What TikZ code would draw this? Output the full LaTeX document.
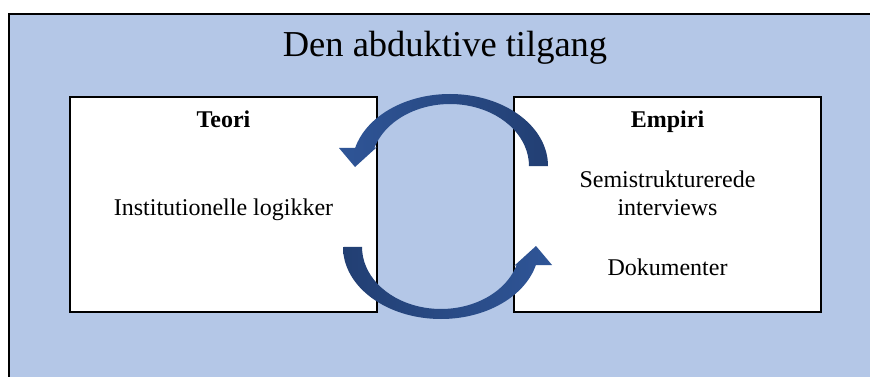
\documentclass[tikz,border=0pt]{standalone}
\usepackage{fontspec}
\setmainfont{Liberation Serif}
\usepackage{xcolor}
\definecolor{panelblue}{HTML}{B4C7E7}
\definecolor{arrowlight}{HTML}{2F5597}
\definecolor{arrowdark}{HTML}{223F73}
\usepackage{tikz}
\usetikzlibrary{positioning, calc}

\begin{document}
\begin{tikzpicture}[
  x=1pt, y=-1pt,
  panel/.style={
    draw=black, line width=1.5pt, fill=white, outer sep=0pt, inner sep=0pt,
    minimum width=307pt, minimum height=215pt
  },
  headlbl/.style={font=\fontsize{24}{28}\selectfont\bfseries, anchor=base},
  bodylbl/.style={font=\fontsize{24}{28}\selectfont, anchor=base},
  cycarrow/.style={draw=none, shading angle=90}
]
  \useasboundingbox (0,0) rectangle (870,377);
  \clip (0,0) rectangle (870,377);

  % light blue frame, runs off the right and bottom edge
  \draw[fill=panelblue, line width=1.2pt] (9,14) rectangle (890,400);
  \node[font=\fontsize{36.5}{40}\selectfont, anchor=base] (title) at (445,57)
    {Den abduktive tilgang};

  \node[panel] (teori) at (223.5,204.5) {};
  \node[panel, right=137pt of teori] (empiri) {};

  \node[headlbl] (teorihead) at ([yshift=-31pt]teori.north) {Teori};
  \node[bodylbl] (teoribody) at ([yshift=-10.5pt]teori.center) {Institutionelle logikker};

  \node[headlbl] (empirihead) at ([yshift=-31pt]empiri.north) {Empiri};
  \node[bodylbl] (semistr) at ([yshift=17.5pt]empiri.center) {Semistrukturerede};
  \node[bodylbl] (interv) at ([yshift=-10.5pt]empiri.center) {interviews};
  \node[bodylbl] (dokum) at ([yshift=-70.5pt]empiri.center) {Dokumenter};

  % curved block arrows: Empiri -> Teori over the top, Teori -> Empiri below
  \shade[cycarrow, left color=arrowlight, right color=arrowdark]
    (548,166) arc[start angle=0, end angle=-165.5, x radius=98, y radius=72]
    -- (339,148) -- (355,167) -- (377,147) -- (374.4,148)
    arc[start angle=-163.1, end angle=0, x radius=79, y radius=62] -- cycle;
  \shade[cycarrow, left color=arrowdark, right color=arrowlight]
    (343,247) arc[start angle=180, end angle=14.5, x radius=98, y radius=72]
    -- (552,265) -- (536,246) -- (514,266) -- (516.6,265)
    arc[start angle=16.9, end angle=180, x radius=79, y radius=62] -- cycle;
\end{tikzpicture}
\end{document}
